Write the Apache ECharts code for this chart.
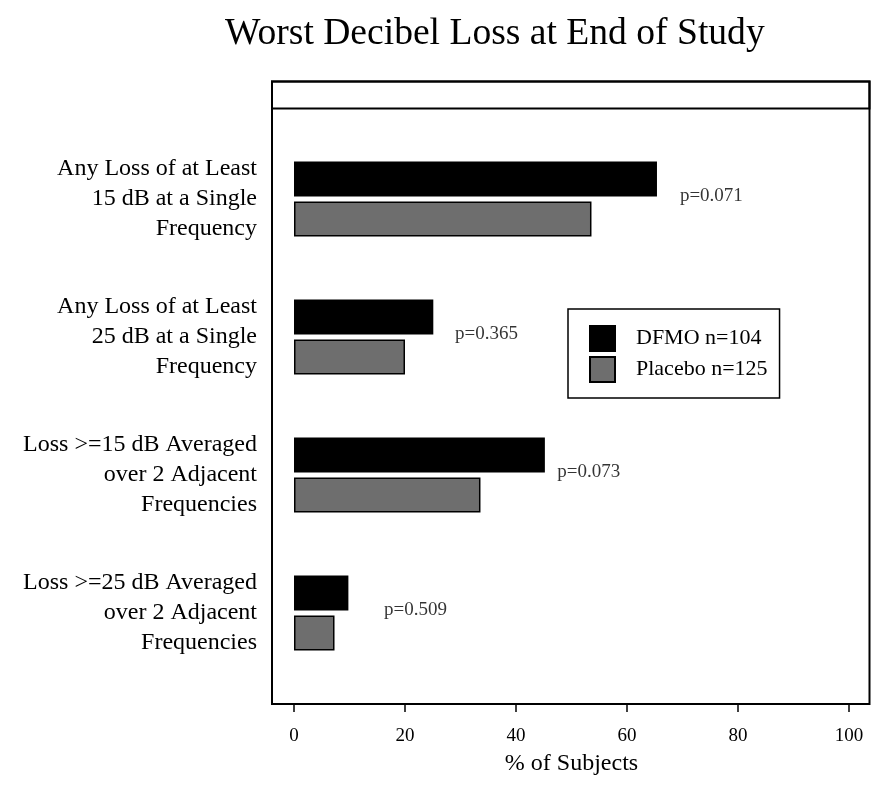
<!DOCTYPE html>
<html>
<head>
<meta charset="utf-8">
<script src="https://cdn.jsdelivr.net/npm/echarts@6/dist/echarts.min.js"></script>
<style>
  html, body { margin: 0; padding: 0; background: #fff; }
  #chart { width: 882px; height: 785px; }
</style>
</head>
<body>
<div id="chart"></div>
<script>
const categories = [
  'Any Loss of at Least\n15 dB at a Single\nFrequency',
  'Any Loss of at Least\n25 dB at a Single\nFrequency',
  'Loss >=15 dB Averaged\nover 2 Adjacent\nFrequencies',
  'Loss >=25 dB Averaged\nover 2 Adjacent\nFrequencies'
];
const dfmo = [65.4, 25.1, 45.2, 9.8];
const placebo = [53.6, 20.0, 33.6, 7.3];
const pX = [75.2, 34.7, 53.1, 21.9];
const pLabels = ['p=0.071', 'p=0.365', 'p=0.073', 'p=0.509'];
const xTicks = [0, 20, 40, 60, 80, 100];
const seriesNames = ['DFMO n=104', 'Placebo n=125'];

const FONT = 'Liberation Serif';
const chart = echarts.init(document.getElementById('chart'), null, { renderer: 'canvas' });

chart.setOption({
  animation: false,
  backgroundColor: '#fff',
  textStyle: { fontFamily: FONT, color: '#000' },
  title: {
    text: 'Worst Decibel Loss at End of Study',
    left: 225,
    top: 15,
    padding: 0,
    textStyle: { fontFamily: FONT, fontSize: 37.6, fontWeight: 'normal', color: '#000' }
  },
  legend: {
    data: seriesNames,
    orient: 'vertical',
    left: 568,
    top: 309,
    padding: [16, 12, 15, 21],
    itemWidth: 25,
    itemHeight: 25,
    itemGap: 4,
    icon: 'rect',
    selectedMode: false,
    backgroundColor: '#fff',
    borderColor: '#000',
    borderWidth: 1.5,
    textStyle: { fontFamily: FONT, fontSize: 22, color: '#000', padding: [0, 0, 0, 16] }
  },
  grid: [
    { left: 294, right: 33, top: 130, bottom: 103, show: false },
    { left: 272, right: 12.5, top: 81.5, bottom: 81, show: true, borderColor: '#000', borderWidth: 2, backgroundColor: 'transparent', z: 0 },
    { left: 272, right: 12.5, top: 81.5, height: 27, show: true, borderColor: '#000', borderWidth: 2, backgroundColor: 'transparent', z: 0 }
  ],
  xAxis: [
    {
      gridIndex: 0,
      type: 'value',
      min: xTicks[0],
      max: xTicks[xTicks.length - 1],
      interval: 20,
      offset: 22,
      position: 'bottom',
      name: '% of Subjects',
      nameLocation: 'middle',
      nameGap: 48,
      nameTextStyle: { fontFamily: FONT, fontSize: 24, color: '#000' },
      axisLine: { show: false },
      axisTick: { show: true, inside: false, length: 8, lineStyle: { color: '#000', width: 1.5 } },
      axisLabel: { fontFamily: FONT, fontSize: 19, color: '#000', margin: 23 },
      splitLine: { show: false }
    },
    { gridIndex: 1, type: 'value', show: false },
    { gridIndex: 2, type: 'value', show: false }
  ],
  yAxis: [
    {
      gridIndex: 0,
      type: 'category',
      data: categories,
      inverse: true,
      axisLine: { show: false },
      axisTick: { show: false },
      axisLabel: { fontFamily: FONT, fontSize: 24, color: '#000', margin: 37, lineHeight: 30, align: 'right' },
      splitLine: { show: false }
    },
    { gridIndex: 1, type: 'value', show: false },
    { gridIndex: 2, type: 'value', show: false }
  ],
  series: [
    {
      name: seriesNames[0],
      type: 'bar',
      xAxisIndex: 0, yAxisIndex: 0,
      data: dfmo,
      barWidth: 35,
      barGap: '14%',
      itemStyle: { color: '#000', borderColor: '#000', borderWidth: 1.5 }
    },
    {
      name: seriesNames[1],
      type: 'bar',
      xAxisIndex: 0, yAxisIndex: 0,
      data: placebo,
      barWidth: 35,
      barGap: '14%',
      itemStyle: { color: '#6e6e6e', borderColor: '#000', borderWidth: 1.5 }
    },
    {
      name: 'pvalues',
      type: 'scatter',
      xAxisIndex: 0, yAxisIndex: 0,
      symbolSize: 0,
      silent: true,
      itemStyle: { color: '#000' },
      data: pX.map((x, i) => [x, i]),
      label: {
        show: true,
        position: 'inside',
        offset: [0, -3],
        formatter: p => pLabels[p.dataIndex],
        fontFamily: FONT,
        fontSize: 19,
        color: '#000',
        textBorderWidth: 0,
        textBorderColor: 'transparent'
      }
    }
  ]
});
</script>
</body>
</html>
